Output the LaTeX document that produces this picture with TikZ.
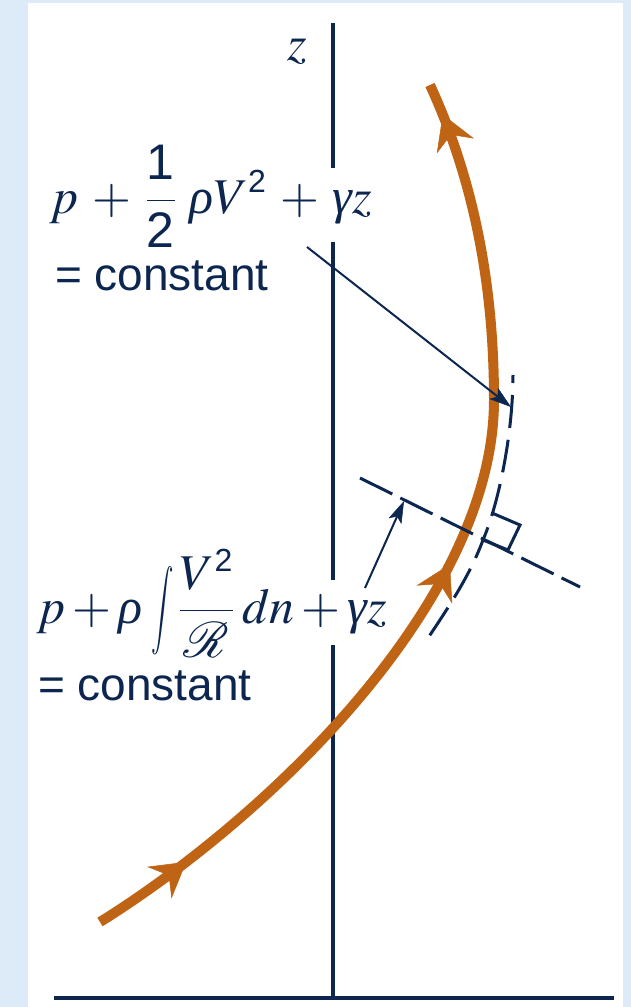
\documentclass[tikz,border=0pt]{standalone}
\usepackage{mathptmx}
\usepackage{exscale}
\usepackage{fontspec}
\setmainfont{Liberation Sans}
\newfontfamily\serifgreek{Liberation Serif}
\usetikzlibrary{arrows.meta,decorations.markings}
\definecolor{navy}{RGB}{12,38,80}
\definecolor{rust}{RGB}{191,99,20}
\definecolor{bgblue}{RGB}{221,234,247}
\newcommand{\sfdig}[1]{\mbox{#1}}
\newcommand{\sfsup}[1]{\mbox{\fontsize{32}{32}\selectfont #1}}
\newcommand{\grk}[1]{\mbox{\serifgreek\itshape #1}}
\begin{document}
\begin{tikzpicture}[x=1pt,y=-1pt,
  axisline/.style={navy, line width=3.5pt},
  stream/.style={rust, line width=10pt},
  leader/.style={navy, line width=2pt, -{Stealth[length=22pt,width=14pt,inset=5pt,line width=0.5pt]}},
  dashcurve/.style={navy, line width=3pt, dash pattern=on 33pt off 12pt, dash phase=25pt},
  dashnormal/.style={navy, line width=3pt, dash pattern=on 36pt off 9pt},
  eq/.style={text=navy, inner sep=0pt, font=\fontsize{46}{52}\selectfont},
  eqmath/.style={text=navy, inner sep=0pt, font=\fontsize{50}{56}\selectfont},
  flowtip/.tip={Stealth[length=34pt,width=40pt,inset=12pt,line width=0.5pt]}]
\fill[bgblue] (0,0) rectangle (631,1007);
\fill[white] (28,3) rectangle (623,1007);
\useasboundingbox (0,0) rectangle (631,1007);

% axes
\coordinate (xl) at (54,998);
\coordinate (xr) at (614,998);
\coordinate (o) at (333,998);
\draw[axisline] (xl) -- (xr);
\draw[axisline] (333,23) -- (333,168);
\draw[axisline] (333,242) -- (333,580);
\draw[axisline] (333,645) -- (o);
\node[eqmath, anchor=base] (zlab) at (297,60) {$z$};

% streamline
\coordinate (s0) at (100,922);
\coordinate (s1) at (494,400);
\coordinate (s2) at (430,85);
\draw[stream, postaction={decorate}, decoration={markings,
    mark=at position 0.105 with {\arrow[rust]{flowtip}},
    mark=at position 0.505 with {\arrow[rust]{flowtip}},
    mark=at position 0.968 with {\arrow[rust]{flowtip}}}]
  (s0) .. controls (270,816) and (494,600) .. (s1)
       .. controls (494,280) and (472,176) .. (s2);

% dashed curve parallel to streamline
\coordinate (d0) at (513,375);
\coordinate (d1) at (483,540);
\coordinate (d2) at (428,638);
\draw[dashcurve] (d0) .. controls (513,430) and (500,500) .. (d1)
                      .. controls (470,575) and (450,605) .. (d2);

% normal line
\coordinate (n1) at (360,478);
\coordinate (n2) at (580,587);
\draw[dashnormal] (n1) -- (n2);

% right-angle marker
\coordinate (q1) at (492,513);
\coordinate (q2) at (520,525);
\coordinate (q3) at (508,550);
\draw[navy, line width=3pt] (q1) -- (q2) -- (q3) -- (d1);

% equations
\node[eqmath, anchor=base west] (eqA) at (50,213)
  {\medmuskip=5mu $\displaystyle p + \frac{\sfdig{1}}{\sfdig{2}}\mkern5mu\grk{ρ}V^{\sfsup{2}} + \grk{γ}z$};
\node[eq, anchor=base west] (eqA2) at (55,290) {= constant};
\node[eqmath, anchor=base west] (eqB) at (37,623)
  {$\displaystyle p + \grk{ρ}\mkern3mu\vcenter{\hbox{\scalebox{0.9}[1.6]{$\displaystyle\int$}}}\mkern2mu\frac{V^{\sfsup{2}}}{\mathcal{R}}\mkern3mu dn + \grk{γ}z$};
\node[eq, anchor=base west] (eqB2) at (38,700) {= constant};

% leaders
\coordinate (l1a) at (307,247);
\coordinate (l1b) at (511,407);
\draw[leader] (l1a) -- (l1b);
\coordinate (l2a) at (365,588);
\coordinate (l2b) at (404,501);
\draw[leader] (l2a) -- (l2b);
\end{tikzpicture}
\end{document}
